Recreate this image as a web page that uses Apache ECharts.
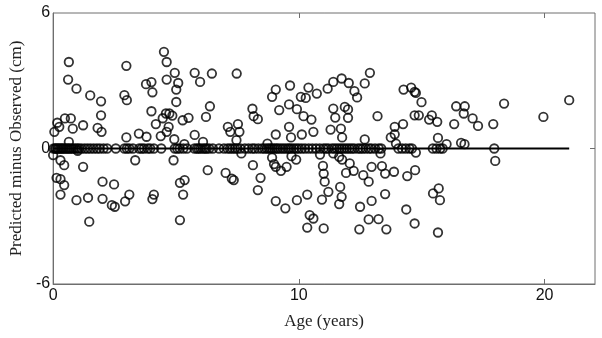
<!DOCTYPE html>
<html>
<head>
<meta charset="utf-8">
<script src="https://cdn.jsdelivr.net/npm/echarts@6/dist/echarts.min.js"></script>
<style>
  html, body { margin: 0; padding: 0; background: #fff; }
  #chart { width: 602px; height: 338px; }
</style>
</head>
<body>
<div id="chart"></div>
<script>
// tick labels
var xTicks = [0, 10, 20];
var yTicks = [-6, 0, 6];

// points lying on the zero line (age, years)
var zeroAges = [0.02, 0.08, 0.12, 0.18, 0.22, 0.28, 0.33, 0.38, 0.43, 0.5, 0.56, 0.62, 0.68, 0.75,
    0.82, 0.9, 0.98, 1.05, 1.15, 1.28, 1.4, 1.52, 1.65, 1.78, 1.9, 2.05, 2.2, 2.55, 2.9, 3.0, 3.1,
    3.25, 3.5, 3.6, 3.7, 3.85, 3.95, 4.1, 4.4, 4.95, 5.05, 5.15, 5.3, 5.45, 5.75, 5.85, 5.92, 6.0,
    6.1, 6.18, 6.25, 6.35, 6.5, 6.75, 6.95, 7.1, 7.2, 7.3, 7.4, 7.5, 7.62, 7.8, 7.95, 8.1, 8.2,
    8.35, 8.5, 8.6, 8.7, 8.78, 8.85, 8.92, 9.0, 9.08, 9.15, 9.25, 9.35, 9.45, 9.55, 9.62, 9.7, 9.8,
    9.9, 10.0, 10.12, 10.25, 10.4, 10.55, 10.7, 10.85, 11.0, 11.1, 11.2, 11.35, 11.45, 11.55, 11.65,
    11.75, 11.85, 11.95, 12.05, 12.15, 12.25, 12.4, 12.5, 12.6, 12.72, 12.85, 12.95, 13.1, 13.25,
    13.35, 14.05, 14.2, 14.35, 14.5, 14.6, 15.45, 15.6, 15.75, 15.85, 17.95];

// points above the line
var upAges = [0.17, 0.05, 0.25, 0.48, 0.72, 0.61, 0.64, 0.8, 0.64, 0.95, 1.22, 1.51, 1.81, 1.95,
    1.95, 1.97, 2.9, 3.0, 2.98, 2.98, 3.49, 3.78, 4.0, 4.04, 4.0, 3.8, 4.18, 4.38, 4.51, 4.62, 4.62,
    4.46, 4.59, 4.73, 4.85, 4.7, 4.62, 4.95, 5.01, 5.09, 5.01, 4.93, 5.27, 5.51, 5.34, 5.76, 5.98,
    5.76, 6.22, 6.38, 6.46, 6.1, 7.11, 7.21, 7.47, 7.52, 7.58, 7.46, 8.11, 8.16, 8.33, 8.72, 8.91,
    9.06, 9.06, 9.2, 9.6, 9.6, 9.64, 9.68, 9.92, 10.12, 10.19, 10.08, 10.28, 10.39, 10.51, 10.59,
    10.73, 11.17, 11.29, 11.4, 11.48, 11.4, 11.74, 11.71, 11.76, 11.87, 12.0, 12.0, 12.03, 12.26,
    12.37, 12.68, 12.89, 12.68, 13.2, 13.74, 13.9, 13.9, 14.24, 13.95, 14.26, 14.57, 14.71, 14.76,
    14.71, 14.88, 14.99, 15.3, 15.41, 15.63, 15.66, 16.01, 16.32, 16.4, 16.75, 16.71, 17.07, 17.29,
    16.6, 16.74, 17.91, 18.35, 19.95, 21.0];
var upDiffs = [1.14, 0.74, 0.96, 1.33, 1.33, 3.05, 3.83, 0.88, 0.29, 2.65, 1.03, 2.35, 0.91, 2.09,
    1.47, 0.74, 2.36, 2.14, 3.66, 0.49, 0.66, 2.85, 2.94, 2.49, 1.65, 0.52, 1.08, 0.55, 4.28, 3.83,
    3.05, 1.34, 1.55, 1.55, 1.46, 0.96, 0.74, 3.35, 2.61, 2.9, 2.06, 0.41, 1.25, 1.36, 0.19, 3.35,
    2.95, 0.6, 1.4, 1.87, 3.32, 0.29, 0.96, 0.74, 3.32, 1.08, 0.74, 0.37, 1.76, 1.43, 1.3, 0.22,
    2.29, 2.61, 0.62, 1.7, 0.96, 1.95, 2.79, 0.49, 1.74, 0.62, 1.43, 2.29, 2.24, 2.7, 1.28, 0.74,
    2.43, 2.65, 0.84, 1.77, 1.37, 2.95, 3.1, 0.88, 0.49, 1.84, 1.73, 1.36, 2.9, 2.54, 2.26, 2.88,
    3.35, 0.4, 1.43, 0.49, 0.96, 0.63, 1.08, 0.22, 2.61, 2.7, 2.51, 2.46, 1.47, 1.47, 2.05, 1.28,
    1.47, 1.18, 0.47, 0.19, 1.08, 1.87, 1.87, 1.55, 1.33, 1.0, 0.25, 0.19, 1.08, 1.99, 1.4, 2.14];

// points below the line
var downAges = [0.0, 0.3, 0.45, 0.14, 0.3, 0.45, 0.3, 0.95, 1.0, 1.22, 1.42, 1.47, 2.01, 2.01, 2.39,
    2.51, 2.48, 2.93, 3.1, 3.34, 4.04, 4.1, 4.9, 5.16, 5.16, 5.35, 5.29, 6.29, 7.02, 7.27, 7.35,
    7.66, 8.13, 8.44, 8.33, 8.91, 8.99, 9.06, 9.27, 9.5, 9.7, 9.89, 9.06, 9.45, 9.92, 10.34, 10.34,
    10.44, 10.59, 11.01, 10.86, 10.98, 11.01, 11.05, 11.2, 10.94, 11.4, 11.64, 11.76, 11.68, 11.74,
    11.64, 11.92, 12.07, 12.23, 12.49, 12.46, 12.62, 12.84, 12.96, 12.84, 12.96, 13.24, 13.32,
    13.38, 13.51, 13.56, 13.51, 13.87, 14.41, 14.73, 14.76, 14.37, 14.71, 15.46, 15.69, 15.74,
    15.66, 17.99];
var downDiffs = [-0.29, -0.52, -0.74, -1.3, -1.36, -1.62, -2.04, -2.29, -0.1, -0.81, -2.18, -3.24,
    -1.47, -2.23, -2.51, -2.58, -1.59, -2.34, -2.04, -0.52, -2.24, -2.04, -0.52, -3.17, -1.52, -1.4,
    -2.04, -0.96, -1.08, -1.33, -1.4, -0.22, -0.74, -1.3, -1.84, -0.4, -0.69, -0.81, -0.99, -0.81,
    -0.34, -0.49, -2.33, -2.65, -2.29, -2.04, -3.5, -2.95, -3.1, -3.54, -0.27, -0.77, -1.11, -1.47,
    -1.92, -2.26, -0.22, -0.37, -0.49, -1.7, -2.14, -2.46, -1.08, -0.66, -0.99, -2.58, -3.58, -1.18,
    -1.47, -2.32, -3.14, -0.81, -3.13, -0.22, -0.78, -1.11, -3.58, -2.02, -1.03, -1.22, -0.96, -0.18,
    -2.7, -3.32, -1.99, -1.77, -2.29, -3.72, -0.55];

// reference line
var lineAges = [0, 21];

var pts = [];
for (var i = 0; i < zeroAges.length; i++) pts.push([zeroAges[i], 0]);
for (var i = 0; i < upAges.length; i++) pts.push([upAges[i], upDiffs[i]]);
for (var i = 0; i < downAges.length; i++) pts.push([downAges[i], downDiffs[i]]);

var axisGray = '#6e6e6e';
var chart = echarts.init(document.getElementById('chart'));
var option = {
    animation: false,
    grid: { left: 51, right: 7, top: 13, bottom: 54, show: true, borderColor: axisGray, borderWidth: 1 },
    xAxis: [{
        type: 'value', min: 0, max: 22.05, interval: 10,
        name: 'Age (years)', nameLocation: 'middle', nameGap: 29,
        nameTextStyle: { fontFamily: 'Liberation Serif', fontSize: 17, color: '#222' },
        axisLine: { show: true, onZero: false, lineStyle: { color: axisGray } },
        axisTick: { show: true, inside: true, length: 5, customValues: xTicks, lineStyle: { color: axisGray } },
        axisLabel: { customValues: xTicks, fontFamily: 'Liberation Sans', fontSize: 16, color: '#111', margin: 4 },
        splitLine: { show: false }
    }, {
        type: 'value', min: 0, max: 22.05, interval: 10, position: 'top',
        axisLine: { show: false, onZero: false },
        axisTick: { show: true, inside: true, length: 5, customValues: xTicks, lineStyle: { color: axisGray } },
        axisLabel: { show: false },
        splitLine: { show: false }
    }],
    yAxis: [{
        type: 'value', min: -6, max: 6, interval: 6,
        name: 'Predicted minus Observed (cm)', nameLocation: 'middle', nameGap: 28,
        nameTextStyle: { fontFamily: 'Liberation Serif', fontSize: 17, color: '#222' },
        axisLine: { show: true, onZero: false, lineStyle: { color: axisGray } },
        axisTick: { show: false },
        axisLabel: { customValues: yTicks, fontFamily: 'Liberation Sans', fontSize: 16, color: '#111', margin: 3 },
        splitLine: { show: false }
    }, {
        type: 'value', min: -6, max: 6, interval: 6, position: 'right',
        axisLine: { show: false, onZero: false },
        axisTick: { show: true, inside: true, length: 5, customValues: [0], lineStyle: { color: axisGray } },
        axisLabel: { show: false },
        splitLine: { show: false }
    }],
    series: [{
        type: 'line',
        data: [[lineAges[0], 0], [lineAges[1], 0]],
        symbol: 'none',
        lineStyle: { color: '#000', width: 1.8 },
        z: 3
    }, {
        type: 'scatter',
        data: pts,
        symbol: 'circle',
        symbolSize: 8.5,
        itemStyle: { color: 'rgba(0,0,0,0)', borderColor: '#000', borderWidth: 1.8 },
        z: 2
    }]
};
chart.setOption(option);
</script>
</body>
</html>
